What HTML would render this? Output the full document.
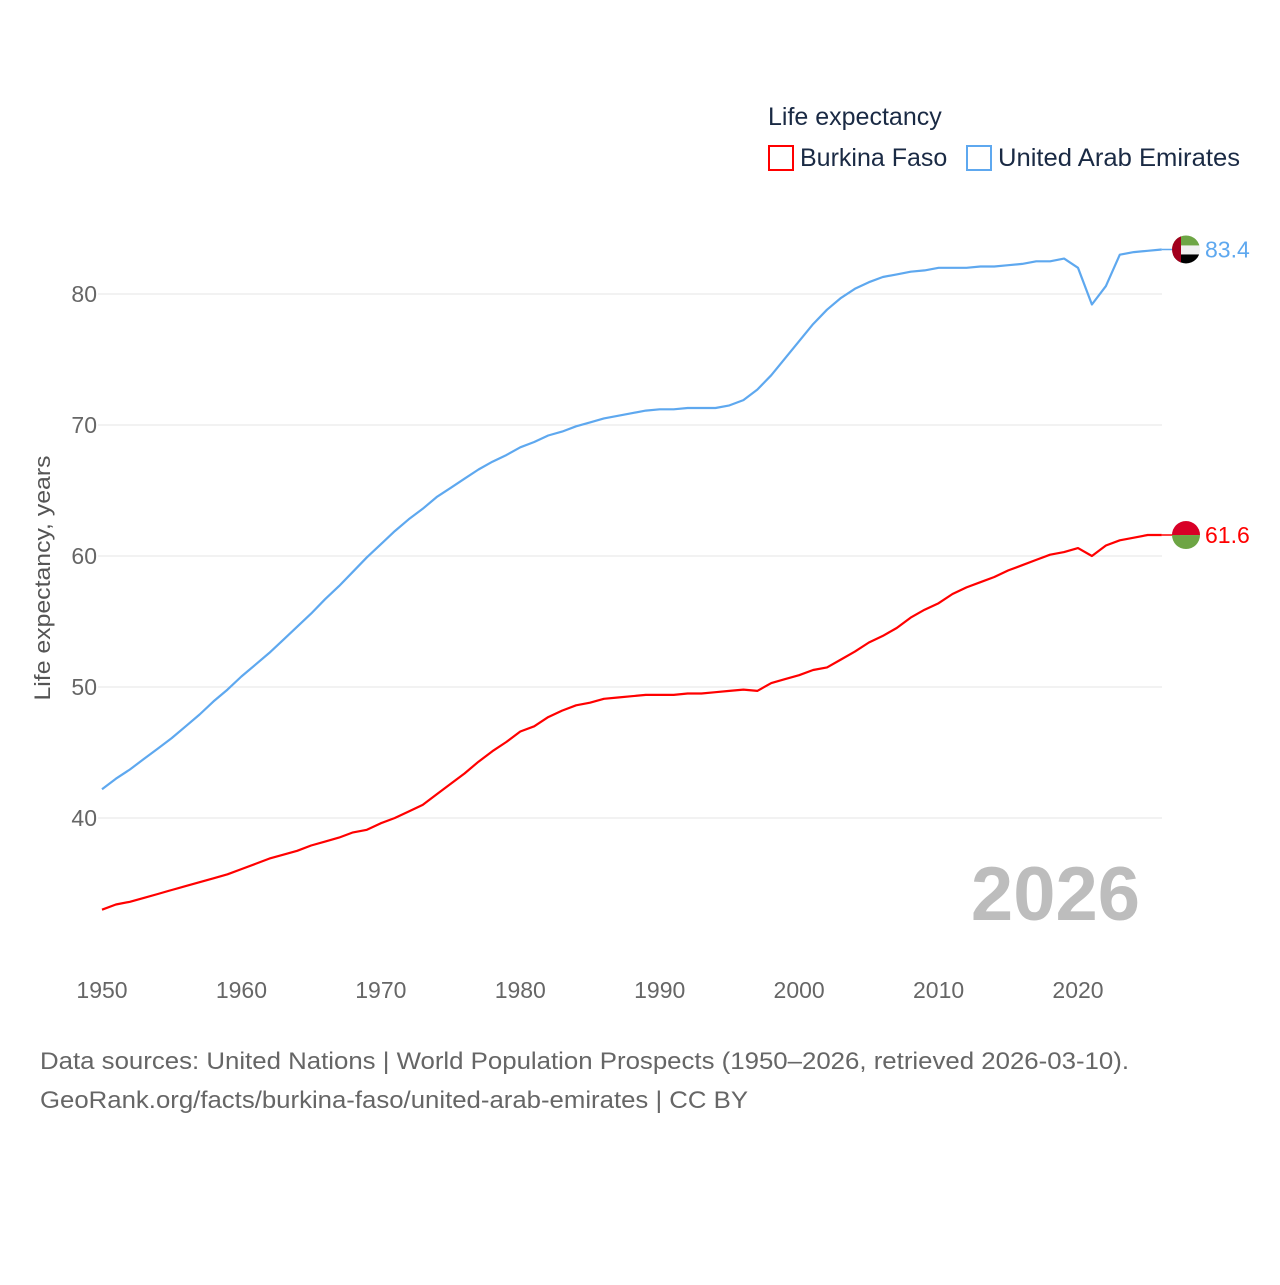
<!DOCTYPE html>
<html><head><meta charset="utf-8"><style>
body{margin:0;background:#fff;font-family:"Liberation Sans",sans-serif;}
</style></head><body>
<svg id="chart" width="1280" height="1280" xmlns="http://www.w3.org/2000/svg">
<g id="grid"></g>
<g id="yticks"></g>
<g id="xticks"></g>
<text x="50" y="578" transform="rotate(-90 50 578)" text-anchor="middle" font-size="22" fill="#555" textLength="245" lengthAdjust="spacingAndGlyphs">Life expectancy, years</text>
<text x="1140" y="920" text-anchor="end" font-size="76" font-weight="bold" fill="#bdbdbd">2026</text>
<text x="768" y="125" font-size="25" fill="#1a2a44">Life expectancy</text>
<g>
<rect x="769" y="146" width="24" height="24" fill="none" stroke="#ff0000" stroke-width="2"/>
<text x="800" y="166" font-size="25" fill="#1a2a44">Burkina Faso</text></g>
<g>
<rect x="967" y="146" width="24" height="24" fill="none" stroke="#5ea8ef" stroke-width="2"/>
<text x="998" y="166" font-size="25" fill="#1a2a44" textLength="242" lengthAdjust="spacingAndGlyphs">United Arab Emirates</text></g>
<g id="series"></g>
<text x="40" y="1069" font-size="24" fill="#666" textLength="1089" lengthAdjust="spacingAndGlyphs">Data sources: United Nations | World Population Prospects (1950–2026, retrieved 2026-03-10).</text>
<text x="40" y="1108" font-size="24" fill="#666" textLength="708" lengthAdjust="spacingAndGlyphs">GeoRank.org/facts/burkina-faso/united-arab-emirates | CC BY</text>
</svg>
<script>
const startYear = 1950;
const xTicks = [1950,1960,1970,1980,1990,2000,2010,2020];
const yTicks = [40,50,60,70,80];
const uaeValues = [42.2,43.0,43.7,44.5,45.3,46.1,47.0,47.9,48.9,49.8,50.8,51.7,52.6,53.6,54.6,55.6,56.7,57.7,58.8,59.9,60.9,61.9,62.8,63.6,64.5,65.2,65.9,66.6,67.2,67.7,68.3,68.7,69.2,69.5,69.9,70.2,70.5,70.7,70.9,71.1,71.2,71.2,71.3,71.3,71.3,71.5,71.9,72.7,73.8,75.1,76.4,77.7,78.8,79.7,80.4,80.9,81.3,81.5,81.7,81.8,82.0,82.0,82.0,82.1,82.1,82.2,82.3,82.5,82.5,82.7,82.0,79.2,80.6,83.0,83.2,83.3,83.4];
const bfValues = [33.0,33.4,33.6,33.9,34.2,34.5,34.8,35.1,35.4,35.7,36.1,36.5,36.9,37.2,37.5,37.9,38.2,38.5,38.9,39.1,39.6,40.0,40.5,41.0,41.8,42.6,43.4,44.3,45.1,45.8,46.6,47.0,47.7,48.2,48.6,48.8,49.1,49.2,49.3,49.4,49.4,49.4,49.5,49.5,49.6,49.7,49.8,49.7,50.3,50.6,50.9,51.3,51.5,52.1,52.7,53.4,53.9,54.5,55.3,55.9,56.4,57.1,57.6,58.0,58.4,58.9,59.3,59.7,60.1,60.3,60.6,60.0,60.8,61.2,61.4,61.6,61.6];
const NS="http://www.w3.org/2000/svg";
const xS = y => 102 + (y-1950)*(976/70);
const yS = v => 818 - (v-40)*13.1;
const mk=(t,a,p)=>{const e=document.createElementNS(NS,t);for(const k in a)e.setAttribute(k,a[k]);p.appendChild(e);return e;};
const grid=document.getElementById('grid'), yt=document.getElementById('yticks'), xt=document.getElementById('xticks'), ser=document.getElementById('series');
yTicks.forEach(v=>{
  const l=mk('line',{x1:98,x2:1162,y1:yS(v),y2:yS(v),stroke:'#e6e6e6','stroke-width':1},grid);
  
  
  const t=mk('text',{x:97,y:yS(v)+8,'text-anchor':'end','font-size':23,fill:'#666'},yt);
  t.textContent=v;
  
  
});
xTicks.forEach(y=>{
  const t=mk('text',{x:xS(y),y:998,'text-anchor':'middle','font-size':23,fill:'#666'},xt);
  t.textContent=y;
  
  
});
function draw(vals,color,name,label,flag){
  const pts=vals.map((v,i)=>xS(startYear+i).toFixed(1)+','+yS(v).toFixed(1)).join(' ');
  const p=mk('polyline',{points:pts,fill:'none',stroke:color,'stroke-width':2.2,'stroke-linejoin':'round'},ser);
  
  
  const last=vals[vals.length-1], lx=xS(startYear+vals.length-1), ly=yS(last);
  mk('line',{x1:lx,x2:1180,y1:ly,y2:ly,stroke:color,'stroke-width':1.5},ser);
  const g=mk('g',{},ser);
  
  
  const cx=1186;
  const cid='c'+name;
  const cp=mk('clipPath',{id:cid},g); mk('circle',{cx:cx,cy:ly,r:14},cp);
  const fg=mk('g',{'clip-path':'url(#'+cid+')'},g);
  flag.forEach(r=>mk('rect',{x:cx-14+r[0],y:ly-14+r[1],width:r[2],height:r[3],fill:r[4]},fg));
  const t=mk('text',{x:1205,y:ly+8,'font-size':23,fill:color},ser);
  t.textContent=label+last.toFixed(1);
  
  
}
draw(uaeValues,'#5ea8ef','uae','',[[0,0,28,10,'#6da544'],[0,10,28,9,'#f0f0f0'],[0,19,28,9,'#000'],[0,0,9,28,'#a2001d']]);
draw(bfValues,'#ff0000','burkina-faso','',[[0,0,28,14,'#d80027'],[0,14,28,14,'#6da544']]);
</script>
</body></html>
